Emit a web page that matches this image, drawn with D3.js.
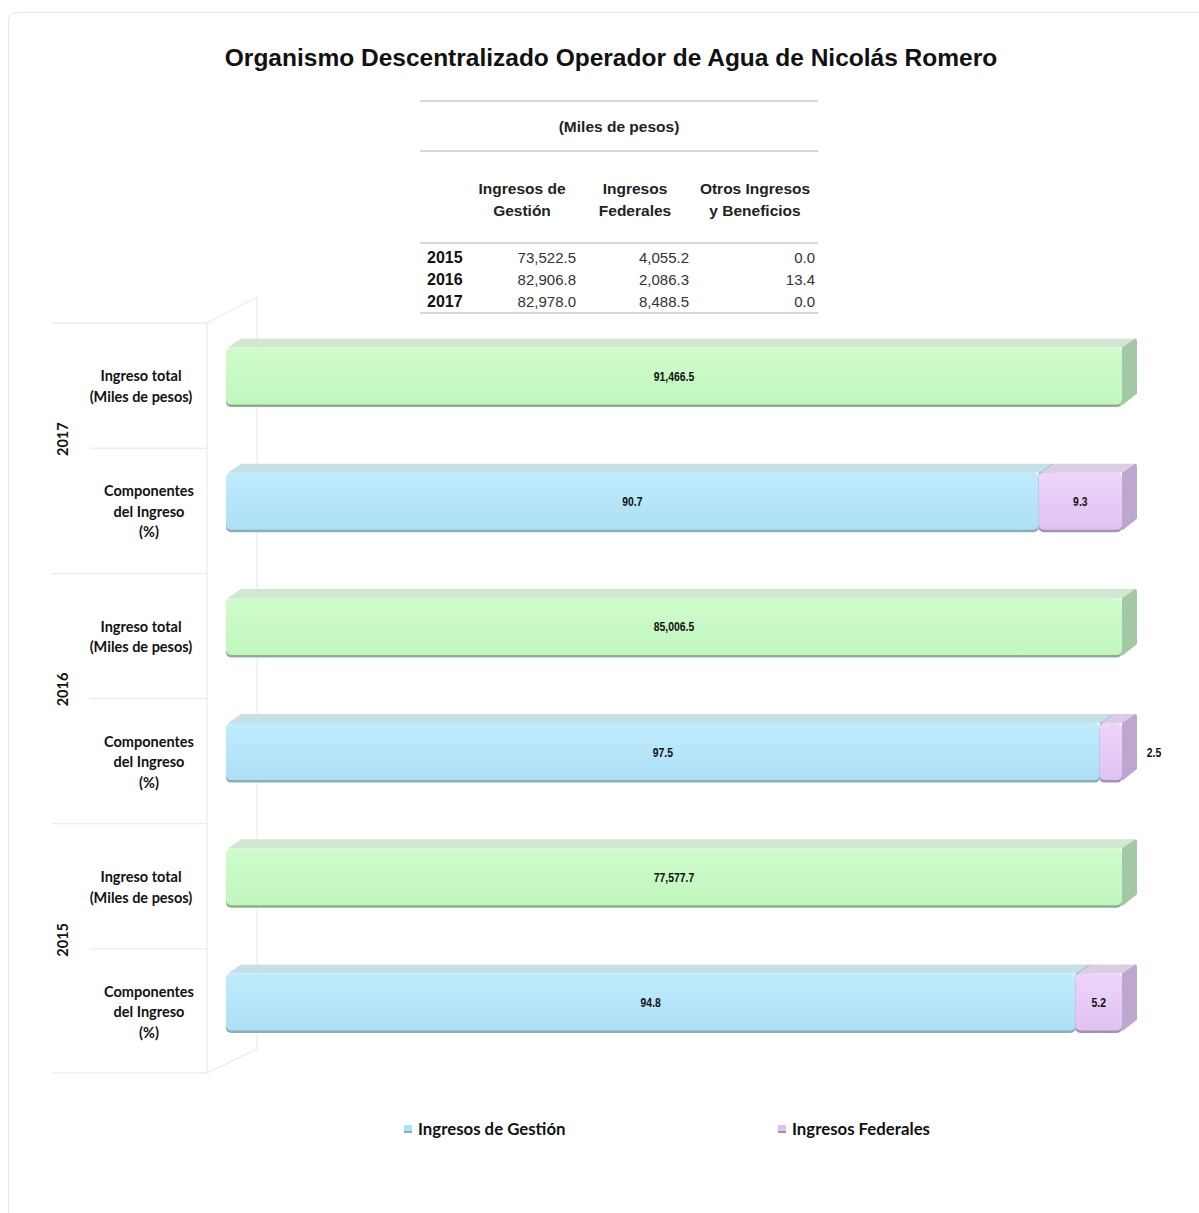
<!DOCTYPE html>
<html><head><meta charset="utf-8">
<script src="https://cdn.jsdelivr.net/npm/d3@7"></script>
<style>body{margin:0;background:#fff}svg{display:block}</style>
</head><body>
<script>
// ---- data ----
const years = ["2017", "2016", "2015"];
const tableYears = ["2015", "2016", "2017"];
const tableGestion = [73522.5, 82906.8, 82978.0];
const tableFederales = [4055.2, 2086.3, 8488.5];
const tableOtros = [0.0, 13.4, 0.0];
const totals = [91466.5, 85006.5, 77577.7];          // per years order
const pctGestion = [90.7, 97.5, 94.8];
const pctFederales = [9.3, 2.5, 5.2];
const tableHeaders = [["Ingresos de", "Gestión"], ["Ingresos", "Federales"], ["Otros Ingresos", "y Beneficios"]];
const rowLabels = { total: ["Ingreso total", "(Miles de pesos)"], comp: ["Componentes", "del Ingreso", "(%)"] };
const legendItems = ["Ingresos de Gestión", "Ingresos Federales"];

const W = 1199, H = 1213;
const svg = d3.select("body").append("svg").attr("width", W).attr("height", H);

// frame
svg.append("rect").attr("x", 8.5).attr("y", 12.5).attr("width", 1220).attr("height", 1230)
  .attr("rx", 8).attr("fill", "#fff").attr("stroke", "#e3e3e3");

// title
svg.append("text").attr("x", 611).attr("y", 66).attr("text-anchor", "middle")
  .attr("font-family", "Liberation Sans, Arial, sans-serif").attr("font-weight", "bold")
  .attr("font-size", 24.5).attr("fill", "#111")
  .text("Organismo Descentralizado Operador de Agua de Nicolás Romero");

// ---- table ----
const tf = "Liberation Sans, Arial, sans-serif";
const tg = svg.append("g");
[101, 151, 243, 313].forEach(y => tg.append("line").attr("x1", 420).attr("x2", 818)
  .attr("y1", y).attr("y2", y).attr("stroke", "#d8d8d0").attr("stroke-width", 2));
tg.append("text").attr("x", 619).attr("y", 132).attr("text-anchor", "middle")
  .attr("font-family", tf).attr("font-weight", "bold").attr("font-size", 15.5).attr("fill", "#222")
  .text("(Miles de pesos)");
const headX = [522, 635, 755];
tableHeaders.forEach((h, i) => h.forEach((line, j) => tg.append("text")
  .attr("x", headX[i]).attr("y", 194 + j * 22).attr("text-anchor", "middle")
  .attr("font-family", tf).attr("font-weight", "bold").attr("font-size", 15.5).attr("fill", "#222").text(line)));
const fmt = d3.format(",.1f");
const valX = [576, 689, 815];
tableYears.forEach((yr, i) => {
  const y = 263 + i * 22;
  tg.append("text").attr("x", 427).attr("y", y).attr("font-family", tf).attr("font-weight", "bold")
    .attr("font-size", 16).attr("fill", "#111").text(yr);
  [tableGestion[i], tableFederales[i], tableOtros[i]].forEach((v, k) => tg.append("text")
    .attr("x", valX[k]).attr("y", y).attr("text-anchor", "end").attr("font-family", tf)
    .attr("font-size", 15).attr("fill", "#333").text(fmt(v)));
});

// ---- chart ----
const rows = [];
years.forEach((yr, i) => {
  rows.push({ key: yr + "-total", year: yr, type: "total", segs: [{ v0: 0, v1: 100, label: fmt(totals[i]), c: "green" }] });
  rows.push({ key: yr + "-comp", year: yr, type: "comp", segs: [
    { v0: 0, v1: pctGestion[i], label: pctGestion[i].toFixed(1), c: "blue" },
    { v0: pctGestion[i], v1: pctGestion[i] + pctFederales[i], label: pctFederales[i].toFixed(1), c: "purple" }] });
});

const x = d3.scaleLinear().domain([0, 100]).range([226, 1122]);
const y = d3.scaleBand().domain(rows.map(r => r.key)).range([314, 1065]).paddingInner(0.536).paddingOuter(0.268);
const dx = 15, dy = 9;
const step = y.step();

// wall / grid
const grid = svg.append("g").attr("stroke", "#e6e6e6").attr("fill", "none");
const gTop = y.range()[0] + dy, gBot = y.range()[1] + dy - 1;
grid.append("line").attr("x1", 207).attr("x2", 207).attr("y1", gTop).attr("y2", gBot);
grid.append("line").attr("x1", 257).attr("x2", 257).attr("y1", gTop - 26).attr("y2", gBot - 24);
grid.append("line").attr("x1", 207).attr("x2", 257).attr("y1", gTop).attr("y2", gTop - 26);
grid.append("line").attr("x1", 207).attr("x2", 257).attr("y1", gBot).attr("y2", gBot - 24);
rows.forEach((r, i) => {
  const yy = y.range()[0] + dy + i * step;
  grid.append("line").attr("x1", i % 2 === 0 ? 52 : 90).attr("x2", 207).attr("y1", yy).attr("y2", yy);
});
grid.append("line").attr("x1", 52).attr("x2", 207).attr("y1", gBot).attr("y2", gBot);

// gradients
const colors = {
  green: { front: ["#d0fccd", "#c0f6bd"], top: "#d3e6d1", side: "#a5c8a4", edge: "#8fae8e" },
  blue: { front: ["#c0ebfd", "#addff6"], top: "#c6e0e8", side: "#9fc3d3", edge: "#8badbc" },
  purple: { front: ["#eed5fa", "#e0c2f2"], top: "#dacde4", side: "#bea7cf", edge: "#a690b6" }
};
const defs = svg.append("defs");
Object.entries(colors).forEach(([k, c]) => {
  const g = defs.append("linearGradient").attr("id", "g-" + k).attr("x1", 0).attr("x2", 0).attr("y1", 0).attr("y2", 1);
  g.append("stop").attr("offset", "0%").attr("stop-color", c.front[0]);
  g.append("stop").attr("offset", "100%").attr("stop-color", c.front[1]);
});

const bars = svg.append("g");
rows.forEach(r => {
  const y0 = y(r.key), h = y.bandwidth();
  r.segs.forEach(s => {
    const a = x(s.v0), b = x(s.v1), c = colors[s.c];
    const g = bars.append("g");
    g.append("path").attr("d", `M${a + 2},${y0} L${a + dx},${y0 - dy} L${b + dx - 2},${y0 - dy} L${b},${y0} Z`)
      .attr("fill", c.top);
    g.append("path").attr("d", `M${b},${y0} L${b + dx - 2},${y0 - dy} Q${b + dx},${y0 - dy} ${b + dx},${y0 - dy + 3} L${b + dx},${y0 + h - dy - 3} L${b},${y0 + h} Z`)
      .attr("fill", c.side);
    g.append("rect").attr("x", a).attr("y", y0 + 1.5).attr("width", b - a).attr("height", h)
      .attr("rx", 5).attr("fill", c.edge);
    g.append("rect").attr("x", a).attr("y", y0).attr("width", b - a).attr("height", h - 1)
      .attr("rx", 5).attr("fill", `url(#g-${s.c})`);
    const small = (b - a) < 28;
    const lx = small ? b + dx + 17 : (a + b) / 2;
    g.append("text").attr("x", lx).attr("y", y0 + h / 2 + 4.5)
      .attr("text-anchor", "middle").attr("font-family", tf).attr("font-weight", "bold")
      .attr("font-size", 13).attr("fill", "#111")
      .attr("transform", `translate(${lx},0) scale(0.8,1) translate(${-lx},0)`)
      .text(s.label);
  });
});

// category labels
const lf = "Lato, Calibri, sans-serif";
const lab = svg.append("g").attr("font-family", lf).attr("font-weight", "bold").attr("font-size", 14.5).attr("fill", "#111");
rows.forEach(r => {
  const cy = y(r.key) + y.bandwidth() / 2;
  const lines = rowLabels[r.type];
  const cx = r.type === "total" ? 141 : 149;
  lines.forEach((t, j) => lab.append("text").attr("x", cx).attr("text-anchor", "middle")
    .attr("y", cy + 15 + (j - (lines.length - 1) / 2) * 20.5).text(t));
});
years.forEach(yr => {
  const cy = (y(yr + "-total") + y(yr + "-comp") + y.bandwidth()) / 2;
  lab.append("text").attr("transform", `translate(68,${cy}) rotate(-90)`).attr("text-anchor", "middle").text(yr);
});

// legend
const leg = svg.append("g").attr("font-family", lf).attr("font-weight", "bold").attr("font-size", 16.8).attr("fill", "#111");
const legX = [404, 778], legC = ["blue", "purple"];
legendItems.forEach((t, i) => {
  const c = colors[legC[i]];
  leg.append("rect").attr("x", legX[i]).attr("y", 1125).attr("width", 8).attr("height", 8).attr("fill", c.front[1]);
  leg.append("rect").attr("x", legX[i]).attr("y", 1131).attr("width", 8).attr("height", 2).attr("fill", c.edge);
  leg.append("text").attr("x", legX[i] + 14).attr("y", 1135).text(t);
});
</script>
</body></html>
